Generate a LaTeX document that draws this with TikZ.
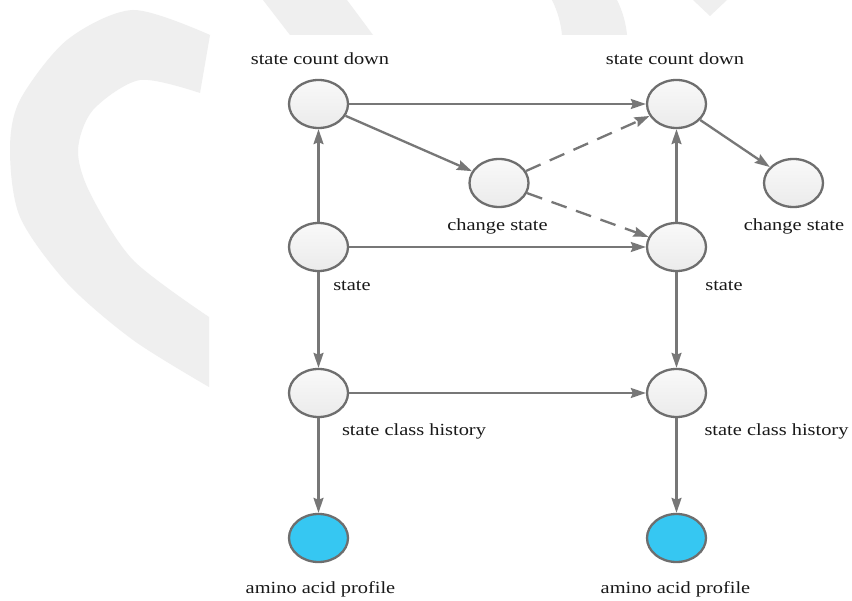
\documentclass[tikz,border=0pt]{standalone}
\usepackage{fontspec}
\setmainfont{Liberation Serif}[FakeStretch=1.2]
\usetikzlibrary{arrows.meta,shapes.geometric}
\definecolor{wm}{HTML}{EFEFEF}
\definecolor{edgec}{HTML}{777777}
\definecolor{bordc}{HTML}{6E6E6E}
\definecolor{cyanf}{HTML}{36C7F2}
\definecolor{ctop}{HTML}{F9F9F9}
\definecolor{cbot}{HTML}{EBEBEB}
\begin{document}
\begin{tikzpicture}[x=1pt,y=-1pt,
  circbase/.style={ellipse, draw=bordc, line width=2.3pt, minimum width=59pt, minimum height=48pt, inner sep=0pt},
  circ/.style={circbase, top color=ctop, bottom color=cbot},
  leaf/.style={circbase, fill=cyanf},
  lbl/.style={anchor=base, inner sep=0pt, font=\fontsize{17}{20}\selectfont, text=black!90},
  edge/.style={draw=edgec, line width=2.3pt, -{Stealth[length=15pt,width=10pt,inset=2pt]}},
  dedge/.style={edge, dash pattern=on 16pt off 10pt}
]
\useasboundingbox (0,0) rectangle (852,601);
\fill[white] (0,0) rectangle (852,601);
% watermark
\fill[wm] plot[smooth] coordinates {(210,35) (133,10) (67,40) (20,100) (10,150) (20,217) (67,283) (133,340) (209,387)}
  -- plot[smooth] coordinates {(209,317) (133,260) (90,193) (78,150) (93,110) (140,80) (200,93)} -- cycle;
\fill[wm] (263,0) -- (347,0) -- (373,35) -- (290,35) -- cycle;
\fill[wm] (552,0) .. controls (558,12) and (561,24) .. (562,35) -- (627,35) .. controls (626,24) and (623,12) .. (617,0) -- cycle;
\fill[wm] (693,0) -- (727,0) -- (710,16) -- cycle;
% nodes
\node[circ] (A1) at (318.5,104) {};
\node[circ] (A2) at (676.5,104) {};
\node[circ] (C1) at (499,183) {};
\node[circ] (C2) at (793.5,183) {};
\node[circ] (S1) at (318.5,247) {};
\node[circ] (S2) at (676.5,247) {};
\node[circ] (H1) at (318.5,393) {};
\node[circ] (H2) at (676.5,393) {};
\node[leaf] (P1) at (318.5,538) {};
\node[leaf] (P2) at (676.5,538) {};
% labels
\node[lbl] (lA1) at (320,65) {state count down};
\node[lbl] (lA2) at (675,65) {state count down};
\node[lbl] (lC1) at (497.5,231) {change state};
\node[lbl] (lC2) at (794,231) {change state};
\node[lbl] (lS1) at (352,291) {state};
\node[lbl] (lS2) at (724,291) {state};
\node[lbl] (lH1) at (414,436) {state class history};
\node[lbl] (lH2) at (776.5,436) {state class history};
\node[lbl] (lP1) at (320.5,593) {amino acid profile};
\node[lbl] (lP2) at (675.5,593) {amino acid profile};
% edges
\draw[edge] (A1) -- (A2);
\draw[edge] (A1) -- (C1);
\draw[dedge] (C1) -- (A2);
\draw[dedge] (C1) -- (S2);
\draw[edge] (A2) -- (C2);
\draw[edge] (S1) -- (A1);
\draw[edge] (S1) -- (S2);
\draw[edge] (S2) -- (A2);
\draw[edge] (S1) -- (H1);
\draw[edge] (S2) -- (H2);
\draw[edge] (H1) -- (H2);
\draw[edge] (H1) -- (P1);
\draw[edge] (H2) -- (P2);
\end{tikzpicture}
\end{document}
